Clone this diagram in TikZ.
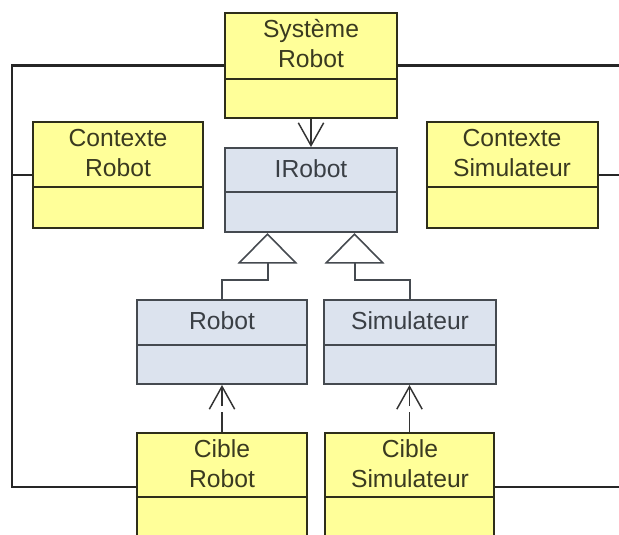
\documentclass[tikz,border=0pt]{standalone}
\usepackage{fontspec}
\setmainfont{Liberation Sans}
\usetikzlibrary{arrows.meta,fit,calc}
\definecolor{classyellow}{HTML}{FFFF99}
\definecolor{classblue}{HTML}{DCE3EE}
\definecolor{yborder}{HTML}{2E2E1A}
\definecolor{bborder}{HTML}{454A50}
\definecolor{ytext}{HTML}{3A3A20}
\definecolor{btext}{HTML}{3A3F45}
\begin{document}
\begin{tikzpicture}[x=0.75pt,y=-0.75pt,
  box/.style={inner sep=0pt, line width=1.5pt},
  ybox/.style={box, draw=yborder, fill=classyellow},
  bbox/.style={box, draw=bborder, fill=classblue},
  ydiv/.style={draw=yborder, line width=1.5pt},
  bdiv/.style={draw=bborder, line width=1.5pt},
  lbl/.style={inner sep=0pt, anchor=south, align=center,
              font=\fontsize{18.5}{22.5}\selectfont},
  ylbl/.style={lbl, text=ytext},
  blbl/.style={lbl, text=btext},
  assoc/.style={draw=black!85, line width=2pt},
  gen/.style={draw=bborder, line width=1.5pt,
              -{Triangle[length=23pt, width=45pt, fill=white, line width=1.2pt]}},
  dep/.style={draw=black!80, line width=1.1pt,
              -{Straight Barb[length=17pt, width=19pt, line width=1.1pt]}},
  depdash/.style={dep, dash pattern=on 15pt off 4.5pt}
]
\useasboundingbox (0,0) rectangle (619,535);
\clip (0,0) rectangle (619,535);

% class boxes
\node[ybox, fit={(225,13) (397,118)}]  (sys)  {};
\node[ybox, fit={(33,122) (203,228)}]  (ctxR) {};
\node[bbox, fit={(225,148) (397,232)}] (irob) {};
\node[ybox, fit={(427,122) (598,228)}] (ctxS) {};
\node[bbox, fit={(137,300) (307,384)}] (rob)  {};
\node[bbox, fit={(324,300) (496,384)}] (sim)  {};
\node[ybox, fit={(137,433) (307,541)}] (cibR) {};
\node[ybox, fit={(325,433) (494,541)}] (cibS) {};

% compartment dividers
\draw[ydiv] ($(sys.north west)+(0,67)$)  -- ($(sys.north east)+(0,67)$);
\draw[ydiv] ($(ctxR.north west)+(0,66)$) -- ($(ctxR.north east)+(0,66)$);
\draw[bdiv] ($(irob.north west)+(0,45)$) -- ($(irob.north east)+(0,45)$);
\draw[ydiv] ($(ctxS.north west)+(0,66)$) -- ($(ctxS.north east)+(0,66)$);
\draw[bdiv] ($(rob.north west)+(0,46)$)  -- ($(rob.north east)+(0,46)$);
\draw[bdiv] ($(sim.north west)+(0,46)$)  -- ($(sim.north east)+(0,46)$);
\draw[ydiv] ($(cibR.north west)+(0,65)$) -- ($(cibR.north east)+(0,65)$);
\draw[ydiv] ($(cibS.north west)+(0,65)$) -- ($(cibS.north east)+(0,65)$);

% class names
\node[ylbl] (sysT)  at (311,68)  {Système\\Robot};
\node[ylbl] (ctxRT) at (118,177) {Contexte\\Robot};
\node[blbl] (irobT) at (311,178) {IRobot};
\node[ylbl] (ctxST) at (512,177) {Contexte\\Simulateur};
\node[blbl] (robT)  at (222,330) {Robot};
\node[blbl] (simT)  at (410,330) {Simulateur};
\node[ylbl] (cibRT) at (222,488) {Cible\\Robot};
\node[ylbl] (cibST) at (410,488) {Cible\\Simulateur};

% rails for the associations
\coordinate (rail) at (12,0);
\coordinate (edge) at (625,0);
\draw[assoc] (sys.west) -| (rail |- cibR.west) -- (cibR.west);
\draw[assoc] (ctxR.west) -- (rail |- ctxR.west);
\draw[assoc] (sys.east) -- (edge |- sys.east);
\draw[assoc] (ctxS.east) -- (edge |- ctxS.east);
\draw[assoc] (cibS.east) -- (edge |- cibS.east);

% generalizations towards IRobot
\coordinate (genL) at ($(irob.south west)!0.25!(irob.south east)$);
\coordinate (genR) at ($(irob.south west)!0.75!(irob.south east)$);
\draw[gen] (rob.north) -- ++(0,-19) -| (genL);
\draw[gen] (sim.north) -- ++(0,-19) -| (genR);

% dependencies
\draw[dep] (sys.south) -- (irob.north);
\draw[depdash] (cibR.north) -- (cibR.north |- rob.south);
\draw[depdash] (cibS.north) -- (cibS.north |- sim.south);
\end{tikzpicture}
\end{document}
